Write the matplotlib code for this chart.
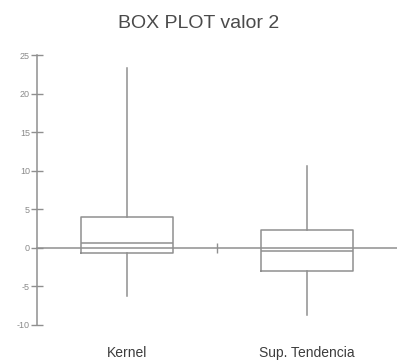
import matplotlib
matplotlib.use("Agg")
from matplotlib import pyplot as plt, transforms as mtransforms

# values
categories = ["Kernel", "Sup. Tendencia"]
whisker_low = [-6.3, -8.7]
q1 = [-0.7, -3.0]
median = [0.6, -0.4]
q3 = [4.05, 2.3]
whisker_high = [23.3, 10.6]
yticks = [-10, -5, 0, 5, 10, 15, 20, 25]

grey = "#8f8f8f"
plt.rcParams["font.family"] = ["Liberation Sans", "DejaVu Sans"]
plt.rcParams["axes.unicode_minus"] = False

fig = plt.figure(figsize=(3.97, 3.61), dpi=100)
ax = fig.add_axes([0.093, 0.0956, 0.907, 0.758])

stats = []
for i, name in enumerate(categories):
    stats.append({
        "label": name,
        "whislo": whisker_low[i],
        "q1": q1[i],
        "med": median[i],
        "q3": q3[i],
        "whishi": whisker_high[i],
        "fliers": [],
    })

line = dict(color=grey, linewidth=1.1)
ax.bxp(stats, positions=[1, 2], widths=0.51, showcaps=False, showfliers=False,
       boxprops=line, whiskerprops=line, medianprops=line, capprops=line)

ax.set_xlim(0.5, 2.5)
ax.set_ylim(-10.2, 25.3)

for s in ["top", "right"]:
    ax.spines[s].set_visible(False)
ax.spines["left"].set_color(grey)
ax.spines["left"].set_linewidth(1.1)
ax.spines["left"].set_bounds(-10, 25)
ax.spines["bottom"].set_position(("data", 0))
ax.spines["bottom"].set_color(grey)
ax.spines["bottom"].set_linewidth(1.1)

ax.set_yticks(yticks)
ax.tick_params(axis="y", direction="inout", length=9, width=1.0, color=grey,
               labelsize=6.5, labelcolor="#8a8a8a", pad=0.5)
ax.set_xticks([1.5])
ax.set_xticklabels([""])
ax.tick_params(axis="x", direction="inout", length=7, width=1.0, color=grey)

trans = mtransforms.blended_transform_factory(ax.transData, ax.transAxes)
for i, name in enumerate(categories):
    ax.text(i + 1, -0.097, name, transform=trans, ha="center", va="center",
            fontsize=10, color="#3c3c3c")

fig.text(0.5, 1 - 24 / 361, "BOX PLOT valor 2", ha="center", va="center",
         fontsize=14, color="#4a4a4a")

fig.savefig("out.png", dpi=100)
